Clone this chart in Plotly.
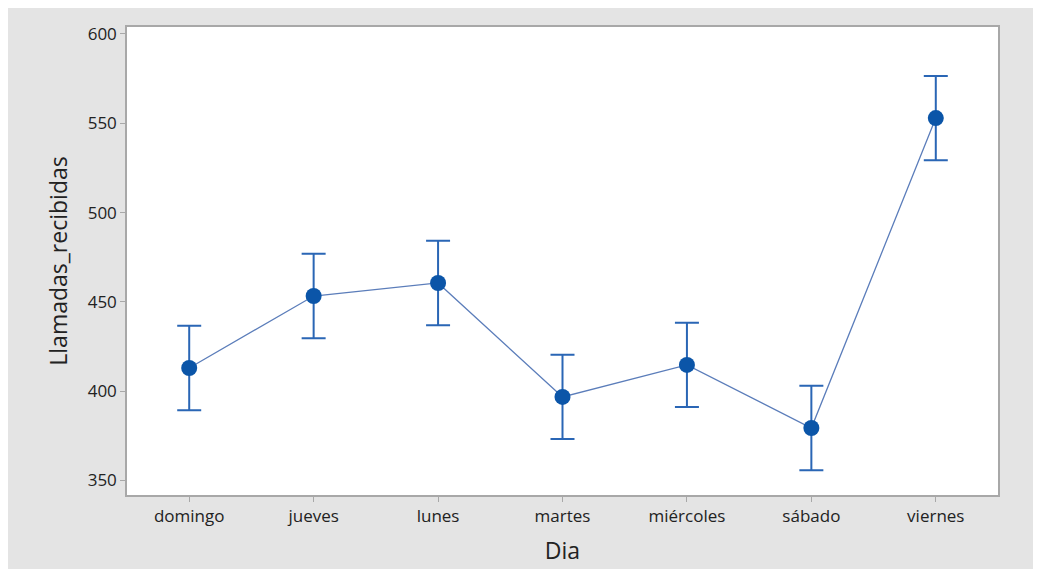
import plotly.graph_objects as go

dias = ["domingo", "jueves", "lunes", "martes", "miércoles", "sábado", "viernes"]
medias = [413.0, 453.3, 460.6, 396.8, 414.7, 379.4, 552.9]
errores = [23.6, 23.6, 23.6, 23.6, 23.6, 23.6, 23.6]
y_ticks = [350, 400, 450, 500, 550, 600]

fig = go.Figure()
fig.add_trace(go.Scatter(
    x=dias, y=medias,
    mode="lines+markers",
    line=dict(color="#5b7dba", width=1.3),
    marker=dict(color="#0b55a8", size=16, symbol="circle"),
    error_y=dict(type="data", array=errores, visible=True,
                 color="#2a66b5", thickness=2, width=12),
    showlegend=False,
))

font_fam = "Open Sans, Noto Sans, sans-serif"
fig.update_layout(
    width=1033, height=561,
    margin=dict(l=119, r=43, t=19, b=74),
    paper_bgcolor="#e4e4e4",
    plot_bgcolor="white",
    font=dict(family=font_fam, color="#222222"),
    xaxis=dict(
        range=[-0.5, 6.5], showgrid=False, zeroline=False, automargin=False,
        showline=True, linecolor="#a8a8a8", linewidth=1.5, mirror=True,
        ticks="outside", ticklen=5, tickcolor="#a8a8a8",
        tickfont=dict(size=17),
        title=dict(text="Dia", font=dict(size=23), standoff=17),
    ),
    yaxis=dict(
        range=[341.9, 603.9], showgrid=False, zeroline=False, automargin=False,
        tickvals=y_ticks,
        showline=True, linecolor="#a8a8a8", linewidth=1.5, mirror=True,
        ticks="outside", ticklen=5, tickcolor="#a8a8a8",
        tickfont=dict(size=17),
        title=dict(text="Llamadas_recibidas", font=dict(size=23), standoff=14),
    ),
)

fig.write_html("out.html")
